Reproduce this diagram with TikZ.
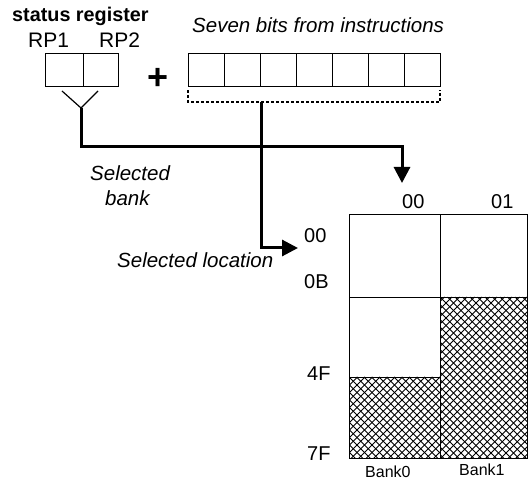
\documentclass[tikz,border=0pt]{standalone}
\usepackage{fontspec}
\setmainfont{Liberation Sans}
\usetikzlibrary{arrows.meta}

\tikzset{
  lbl/.style={inner sep=0pt, anchor=base west, font=\fontsize{20}{24}\selectfont},
  ilbl/.style={lbl, font=\fontsize{20.5}{24}\selectfont\itshape},
  small/.style={inner sep=0pt, anchor=base west, font=\fontsize{16}{19}\selectfont},
  bitcell/.style={draw, line width=1.3pt, minimum width=36pt, minimum height=33pt, inner sep=0pt, anchor=north west},
  rpcell/.style={draw, line width=1.3pt, minimum height=33pt, inner sep=0pt, anchor=north west},
  bus/.style={line width=3pt},
  tip/.style={-{Triangle[length=16pt,width=16pt]}},
  cell/.style={draw, line width=1.3pt, inner sep=0pt, anchor=north west},
  hatchline/.style={line width=0.9pt}
}

% diagonal cross-hatching of a rectangle given by its corners
\newcommand{\crosshatch}[4]{%
  \begin{scope}
    \clip (#1,#2) rectangle (#3,#4);
    \foreach \k in {-180,-172.5,...,100} {
      \draw[hatchline] ({#1+\k},#2) -- ++(180,180);
      \draw[hatchline] ({#3-\k},#2) -- ++(-180,180);
    }
  \end{scope}}

\begin{document}
\begin{tikzpicture}[x=1pt,y=-1pt]
\useasboundingbox (0,0) rectangle (528,481);

% status register bits RP1 / RP2
\node[lbl, font=\fontsize{19.8}{23}\selectfont\bfseries] (sr) at (12,22) {status register};
\node[lbl, font=\fontsize{21}{24}\selectfont] (rp1lbl) at (28,48) {RP1};
\node[lbl, font=\fontsize{21}{24}\selectfont] (rp2lbl) at (99,48) {RP2};
\node[rpcell, minimum width=38pt] (rp1) at (45,53) {};
\node[rpcell, minimum width=35pt] (rp2) at (83,53) {};

% plus sign
\node[inner sep=0pt, font=\fontsize{36}{36}\selectfont\bfseries] (plus) at (158,79) {+};

% seven instruction bits
\node[ilbl] (sevenlbl) at (192,33) {Seven bits from instructions};
\foreach \i in {0,...,6} {
  \node[bitcell] (b\i) at ({188+36*\i},53) {};
}

% dotted bracket under the instruction bits
\coordinate (brL) at (188,90);
\coordinate (brR) at (440,90);
\coordinate (brM) at (261,102);
\draw[line width=1.2pt, dash pattern=on 3pt off 2pt] (brL) |- (brM) -| (brR);

% merge of RP1 and RP2
\coordinate (yL) at (62,91);
\coordinate (yR) at (98,91);
\coordinate (yM) at (81,108);
\draw[line width=1.2pt] (yL) -- (yM) -- (yR);

% memory banks
\crosshatch{349}{377}{440}{458}
\crosshatch{440}{297}{527}{458}
\node[cell, minimum width=91pt, minimum height=83pt] (b0top) at (349,214) {};
\node[cell, minimum width=87pt, minimum height=83pt] (b1top) at (440,214) {};
\node[cell, minimum width=91pt, minimum height=80pt] (b0mid) at (349,297) {};
\node[cell, minimum width=91pt, minimum height=81pt] (b0low) at (349,377) {};
\node[cell, minimum width=87pt, minimum height=161pt] (b1low) at (440,297) {};

% bank and address labels
\node[lbl] (c00) at (402,209) {00};
\node[lbl] (c01) at (491,209) {01};
\node[lbl] (r00) at (304,243) {00};
\node[lbl] (r0B) at (304,289) {0B};
\node[lbl] (r4F) at (307,381) {4F};
\node[lbl] (r7F) at (307,460) {7F};
\node[small] (bank0) at (365,477) {Bank0};
\node[small] (bank1) at (459,475) {Bank1};

% selected bank and selected location
\coordinate (bankTip) at (402,183);
\coordinate (locTip) at (298,248);
\draw[bus, tip] (yM) |- (402,147) -- (bankTip);
\draw[bus, tip] (brM) |- (locTip);

\node[ilbl] (selA) at (90,181) {Selected};
\node[ilbl] (selB) at (105,206) {bank};
\node[ilbl] (selloc) at (117,268) {Selected location};
\end{tikzpicture}
\end{document}
